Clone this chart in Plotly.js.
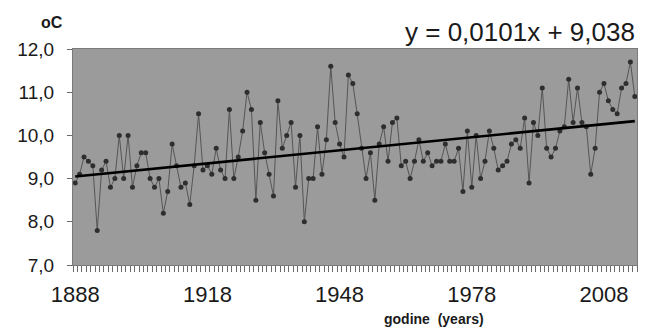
<!DOCTYPE html>
<html>
<head>
<meta charset="utf-8">
<script src="https://cdn.plot.ly/plotly-3.0.1.min.js"></script>
<style>
html,body{margin:0;padding:0;background:#fff;}
#chart{width:657px;height:334px;}
</style>
</head>
<body>
<div id="chart"></div>
<script>
// Categories
const startYear = 1888;
const yearCount = 128;
const tickYears = [1888, 1918, 1948, 1978, 2008];
const yTicks = [7, 8, 9, 10, 11, 12];

// Annual mean temperature (oC)
const temps = [
  8.9, 9.1, 9.5, 9.4, 9.3, 7.8, 9.2, 9.4, 8.8, 9.0,
  10.0, 9.0, 10.0, 8.8, 9.3, 9.6, 9.6, 9.0, 8.8, 9.0,
  8.2, 8.7, 9.8, 9.3, 8.8, 8.9, 8.4, 9.3, 10.5, 9.2,
  9.3, 9.1, 9.7, 9.2, 9.0, 10.6, 9.0, 9.5, 10.1, 11.0,
  10.6, 8.5, 10.3, 9.6, 9.1, 8.6, 10.8, 9.7, 10.0, 10.3,
  8.8, 10.0, 8.0, 9.0, 9.0, 10.2, 9.1, 9.9, 11.6, 10.3,
  9.8, 9.5, 11.4, 11.2, 10.5, 9.7, 9.0, 9.6, 8.5, 9.8,
  10.2, 9.4, 10.3, 10.4, 9.3, 9.4, 9.0, 9.4, 9.9, 9.4,
  9.6, 9.3, 9.4, 9.4, 9.8, 9.4, 9.4, 9.7, 8.7, 10.1,
  8.8, 10.0, 9.0, 9.4, 10.1, 9.7, 9.2, 9.3, 9.4, 9.8,
  9.9, 9.7, 10.4, 8.9, 10.3, 10.0, 11.1, 9.7, 9.5, 9.7,
  10.1, 10.2, 11.3, 10.3, 11.1, 10.3, 10.2, 9.1, 9.7, 11.0,
  11.2, 10.8, 10.6, 10.5, 11.1, 11.2, 11.7, 10.9
];

// Linear trend shown on the chart: y = 0,0101x + 9,038 (x = 1, 2, ...)
const trendSlope = 0.0101;
const trendIntercept = 9.038;

const years = [];
for (let i = 0; i < yearCount; i++) years.push(startYear + i);
const trendX = [years[0], years[years.length - 1]];
const trendY = [trendIntercept + trendSlope * 1, trendIntercept + trendSlope * years.length];

const data = [
  {
    x: years, y: temps, type: 'scatter', mode: 'lines+markers',
    line: {color: '#555555', width: 1},
    marker: {color: '#2e2e2e', size: 5, symbol: 'circle'},
    hoverinfo: 'x+y'
  },
  {
    x: trendX, y: trendY, type: 'scatter', mode: 'lines',
    line: {color: '#000000', width: 2.6},
    hoverinfo: 'skip'
  }
];

const layout = {
  width: 657, height: 334,
  margin: {l: 73, r: 20, t: 49, b: 69},
  paper_bgcolor: '#ffffff',
  plot_bgcolor: '#9b9b9b',
  showlegend: false,
  separators: ',.',
  font: {family: 'Liberation Sans, Arial, sans-serif', color: '#1a1a1a'},
  xaxis: {
    range: [startYear - 0.5, startYear + yearCount - 0.5],
    tickmode: 'array', tickvals: tickYears, ticktext: tickYears.map(String),
    ticks: '', showgrid: false, zeroline: false,
    showline: true, linecolor: '#7a7a7a', linewidth: 1, mirror: true,
    tickfont: {size: 22, color: '#1a1a1a'},
    ticklabelstandoff: 10,
    minor: {ticks: 'outside', ticklen: 6, tickcolor: '#6a6a6a', tickwidth: 1, tick0: startYear - 0.5, dtick: 1, showgrid: false}
  },
  yaxis: {
    range: [7, 12],
    tickmode: 'array', tickvals: yTicks, ticktext: yTicks.map(v => v.toFixed(1).replace('.', ',')),
    ticks: 'outside', ticklen: 5, tickcolor: '#6a6a6a',
    showgrid: false, zeroline: false,
    showline: true, linecolor: '#7a7a7a', linewidth: 1, mirror: true,
    tickfont: {size: 19, color: '#1a1a1a'},
    ticklabelstandoff: 9
  },
  annotations: [
    {text: 'y = 0,0101x + 9,038', xref: 'paper', yref: 'paper', x: 1.0, y: 1.0,
     xanchor: 'right', yanchor: 'bottom', yshift: 0, showarrow: false,
     font: {size: 26, color: '#1a1a1a'}},
    {text: '<b>oC</b>', xref: 'paper', yref: 'paper', x: -0.038, y: 1.0,
     xanchor: 'center', yanchor: 'bottom', yshift: 16, showarrow: false,
     font: {size: 16, color: '#1a1a1a'}},
    {text: '<b>godine  (years)</b>', xref: 'paper', yref: 'paper', x: 0.64, y: 0,
     xanchor: 'center', yanchor: 'top', yshift: -44, showarrow: false,
     font: {size: 14, color: '#1a1a1a'}}
  ]
};

Plotly.newPlot('chart', data, layout, {displayModeBar: false, staticPlot: true});
</script>
</body>
</html>
